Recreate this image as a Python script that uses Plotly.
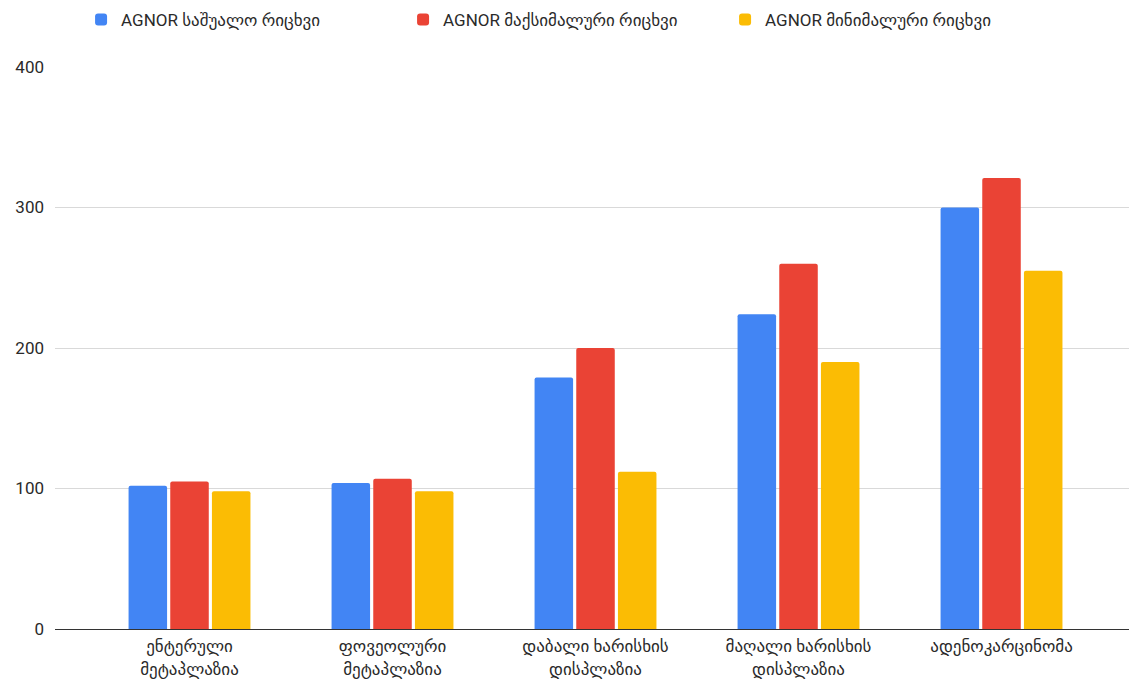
import plotly.graph_objects as go

categories = [
    "ენტერული<br>მეტაპლაზია",
    "ფოვეოლური<br>მეტაპლაზია",
    "დაბალი ხარისხის<br>დისპლაზია",
    "მაღალი ხარისხის<br>დისპლაზია",
    "ადენოკარცინომა",
]
series_names = [
    "AGNOR საშუალო რიცხვი",
    "AGNOR მაქსიმალური რიცხვი",
    "AGNOR მინიმალური რიცხვი",
]
mean_counts = [102, 104, 179, 224, 300]
max_counts = [105, 107, 200, 260, 321]
min_counts = [98, 98, 112, 190, 255]
colors = ["#4285F4", "#EA4335", "#FBBC04"]
y_ticks = [0, 100, 200, 300, 400]

FONT = "Roboto, 'DejaVu Sans', sans-serif"
TEXT = "#2a2a2a"

fig = go.Figure()
for name, vals, col in zip(series_names, [mean_counts, max_counts, min_counts], colors):
    fig.add_trace(go.Bar(
        x=list(range(len(categories))), y=vals, name=name,
        marker=dict(color=col, line=dict(width=0)),
    ))

fig.update_layout(
    width=1129, height=682,
    margin=dict(l=55, r=0, t=67, b=53),
    paper_bgcolor="white", plot_bgcolor="white",
    barmode="group", bargap=0.384, bargroupgap=0.076,
    barcornerradius=2,
    font=dict(family=FONT, size=17, color=TEXT),
    legend=dict(
        orientation="h", x=0.474, xanchor="center",
        y=0.997, yanchor="top", yref="container",
        font=dict(size=17, color=TEXT),
        itemwidth=30, traceorder="normal",
        entrywidth=277, entrywidthmode="pixels",
    ),
    xaxis=dict(
        tickmode="array", tickvals=list(range(len(categories))),
        ticktext=categories, range=[-0.6626, 4.628],
        showgrid=False, zeroline=False,
        showline=True, linecolor="#333333", linewidth=1,
        ticks="", ticklabelstandoff=2,
        tickfont=dict(size=17, color=TEXT),
    ),
    yaxis=dict(
        range=[0, 400], tickvals=y_ticks,
        showgrid=True, gridcolor="#d9d9d9", gridwidth=1,
        zeroline=False, showline=False, ticks="",
        ticklabelstandoff=10,
        tickfont=dict(size=17, color=TEXT),
    ),
)

fig.write_html("out.html")
